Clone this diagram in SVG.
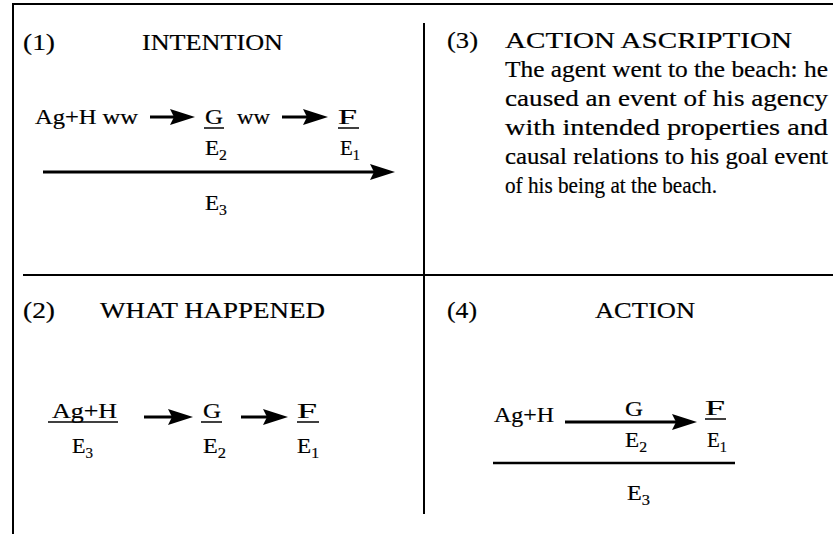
<svg xmlns="http://www.w3.org/2000/svg" width="833" height="534" viewBox="0 0 833 534">
<style>
.t{font-family:"Liberation Serif","Times New Roman",serif;fill:#000;stroke:#000;stroke-width:0.2}
.h{font-size:24px}
.b{font-size:23px}
.f{font-size:22px}
.sub{font-size:15px}
.frame{stroke:#000;stroke-width:2;fill:none}
.ul{stroke:#000;stroke-width:1.5}
.arr{stroke:#000;stroke-width:3;fill:none;marker-end:url(#ah)}
.bar{stroke:#000;stroke-width:2.5}
</style>
<defs>
<marker id="ah" markerUnits="userSpaceOnUse" markerWidth="26" markerHeight="18" refX="15" refY="8" orient="auto" viewBox="0 0 26 16">
<path d="M0,0 L25,8 L0,16 L4,8 z" fill="#000"/>
</marker>
</defs>
<rect width="833" height="534" fill="#fff"/>
<g id="frame">
<line class="frame" x1="12" y1="4" x2="833" y2="4"/>
<line class="frame" x1="13" y1="3" x2="13" y2="534"/>
<line class="frame" x1="424" y1="23" x2="424" y2="514"/>
<line class="frame" x1="23" y1="275" x2="833" y2="275"/>
</g>
<g id="panel-1-intention">
<text class="t h" x="23" y="50" textLength="32" lengthAdjust="spacingAndGlyphs">(1)</text>
<text class="t h" x="142" y="50" textLength="141" lengthAdjust="spacingAndGlyphs">INTENTION</text>
<text class="t f" x="35" y="124" textLength="103" lengthAdjust="spacingAndGlyphs">Ag+H ww</text>
<text class="t f" x="205" y="124" textLength="18" lengthAdjust="spacingAndGlyphs">G</text>
<line class="ul" x1="204" y1="128" x2="224" y2="128"/>
<text class="t f" x="237" y="124" textLength="33" lengthAdjust="spacingAndGlyphs">ww</text>
<text class="t f" x="338" y="124" textLength="19" lengthAdjust="spacingAndGlyphs">F</text>
<line class="ul" x1="338" y1="128" x2="359" y2="128"/>
<text class="t f" x="205" y="155" textLength="22" lengthAdjust="spacingAndGlyphs">E<tspan class="sub" dy="5">2</tspan></text>
<text class="t f" x="340" y="155" textLength="20" lengthAdjust="spacingAndGlyphs">E<tspan class="sub" dy="5">1</tspan></text>
<text class="t f" x="205" y="210" textLength="22" lengthAdjust="spacingAndGlyphs">E<tspan class="sub" dy="5">3</tspan></text>
</g>
<g id="panel-3-action-ascription">
<text class="t h" x="447" y="48" textLength="31" lengthAdjust="spacingAndGlyphs">(3)</text>
<text class="t h" x="505" y="48" textLength="287" lengthAdjust="spacingAndGlyphs">ACTION ASCRIPTION</text>
<text class="t b" x="505" y="77" textLength="323" lengthAdjust="spacingAndGlyphs">The agent went to the beach: he</text>
<text class="t b" x="505" y="106" textLength="323" lengthAdjust="spacingAndGlyphs">caused an event of his agency</text>
<text class="t b" x="505" y="135" textLength="323" lengthAdjust="spacingAndGlyphs">with intended properties and</text>
<text class="t b" x="505" y="164" textLength="323" lengthAdjust="spacingAndGlyphs">causal relations to his goal event</text>
<text class="t b" x="505" y="193" textLength="212" lengthAdjust="spacingAndGlyphs">of his being at the beach.</text>
</g>
<g id="panel-2-what-happened">
<text class="t h" x="23" y="318" textLength="32" lengthAdjust="spacingAndGlyphs">(2)</text>
<text class="t h" x="100" y="318" textLength="225" lengthAdjust="spacingAndGlyphs">WHAT HAPPENED</text>
<text class="t f" x="52" y="418" textLength="65" lengthAdjust="spacingAndGlyphs">Ag+H</text>
<line class="ul" x1="48" y1="422" x2="118" y2="422"/>
<text class="t f" x="203" y="418" textLength="18" lengthAdjust="spacingAndGlyphs">G</text>
<line class="ul" x1="201" y1="422" x2="222" y2="422"/>
<text class="t f" x="297" y="418" textLength="20" lengthAdjust="spacingAndGlyphs">F</text>
<line class="ul" x1="297" y1="422" x2="319" y2="422"/>
<text class="t f" x="72" y="453" textLength="21" lengthAdjust="spacingAndGlyphs">E<tspan class="sub" dy="5">3</tspan></text>
<text class="t f" x="203" y="453" textLength="23" lengthAdjust="spacingAndGlyphs">E<tspan class="sub" dy="5">2</tspan></text>
<text class="t f" x="297" y="453" textLength="22" lengthAdjust="spacingAndGlyphs">E<tspan class="sub" dy="5">1</tspan></text>
</g>
<g id="panel-4-action">
<text class="t h" x="447" y="318" textLength="30" lengthAdjust="spacingAndGlyphs">(4)</text>
<text class="t h" x="595" y="318" textLength="100" lengthAdjust="spacingAndGlyphs">ACTION</text>
<text class="t f" x="494" y="422" textLength="60" lengthAdjust="spacingAndGlyphs">Ag+H</text>
<text class="t f" x="625" y="416" textLength="18" lengthAdjust="spacingAndGlyphs">G</text>
<text class="t f" x="705" y="415" textLength="20" lengthAdjust="spacingAndGlyphs">F</text>
<line class="ul" x1="705" y1="419" x2="726" y2="419"/>
<text class="t f" x="625" y="447" textLength="22" lengthAdjust="spacingAndGlyphs">E<tspan class="sub" dy="5">2</tspan></text>
<text class="t f" x="707" y="447" textLength="20" lengthAdjust="spacingAndGlyphs">E<tspan class="sub" dy="5">1</tspan></text>
<line class="bar" x1="493" y1="463" x2="735" y2="463"/>
<text class="t f" x="627" y="500" textLength="23" lengthAdjust="spacingAndGlyphs">E<tspan class="sub" dy="5">3</tspan></text>
</g>
<g id="connectors">
<line class="arr" x1="150" y1="117" x2="185" y2="117"/>
<line class="arr" x1="282" y1="117" x2="318" y2="117"/>
<line class="arr" x1="43" y1="172" x2="385" y2="172"/>
<line class="arr" x1="144" y1="417" x2="183" y2="417"/>
<line class="arr" x1="241" y1="417" x2="278" y2="417"/>
<line class="arr" x1="565" y1="422" x2="687" y2="422"/>
</g>
</svg>
